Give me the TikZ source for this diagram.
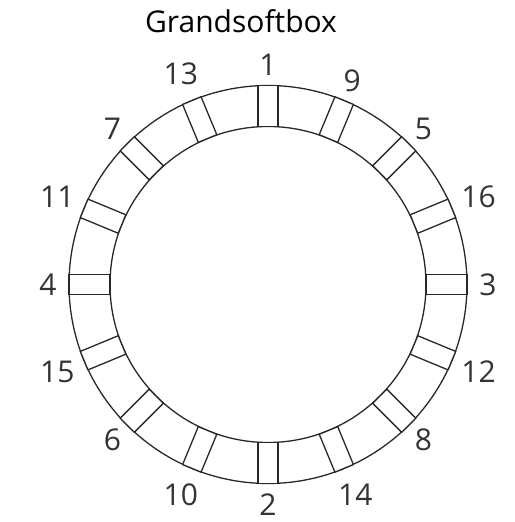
\documentclass[tikz,border=0pt]{standalone}
\usepackage{fontspec}
\setmainfont{Open Sans}
\usepackage{tikz}
\usetikzlibrary{positioning}
\definecolor{ringgray}{RGB}{40,40,40}

\begin{document}
\begin{tikzpicture}[
    x=1pt, y=1pt,
    ring/.style={draw=ringgray, line width=1.3pt},
    slot/.style={rectangle, draw=ringgray, line width=1.3pt, fill=white,
                 minimum width=41pt, minimum height=20pt, inner sep=0pt},
    num/.style={font=\fontsize{30}{30}\selectfont, text=black!80, inner sep=0pt},
    title/.style={font=\fontsize{30}{30}\selectfont, text=black, inner sep=0pt}
]
\useasboundingbox (0,0) rectangle (514,522);

% centre of the ring
\coordinate (c) at (268,237.5);

% Title
\node[title] (head) at (241,501) {Grandsoftbox};

% Ring
\draw[ring] (c) circle (199);
\draw[ring] (c) circle (158);

% Slots and their numbers
\foreach \n/\a in {1/90, 9/67.5, 5/45, 16/22.5, 3/0, 12/-22.5, 8/-45, 14/-67.5,
                   2/-90, 10/-112.5, 6/-135, 15/-157.5, 4/180, 11/157.5, 7/135, 13/112.5}{
    \node[slot, rotate=\a] (box\n) at ([shift={(\a:178.5)}]c) {};
    \pgfmathsetmacro{\rr}{\n>9 ? 228 : 220}
    \node[num] (num\n) at ([shift={(\a:\rr)}]c) {\n};
}

\end{tikzpicture}
\end{document}
